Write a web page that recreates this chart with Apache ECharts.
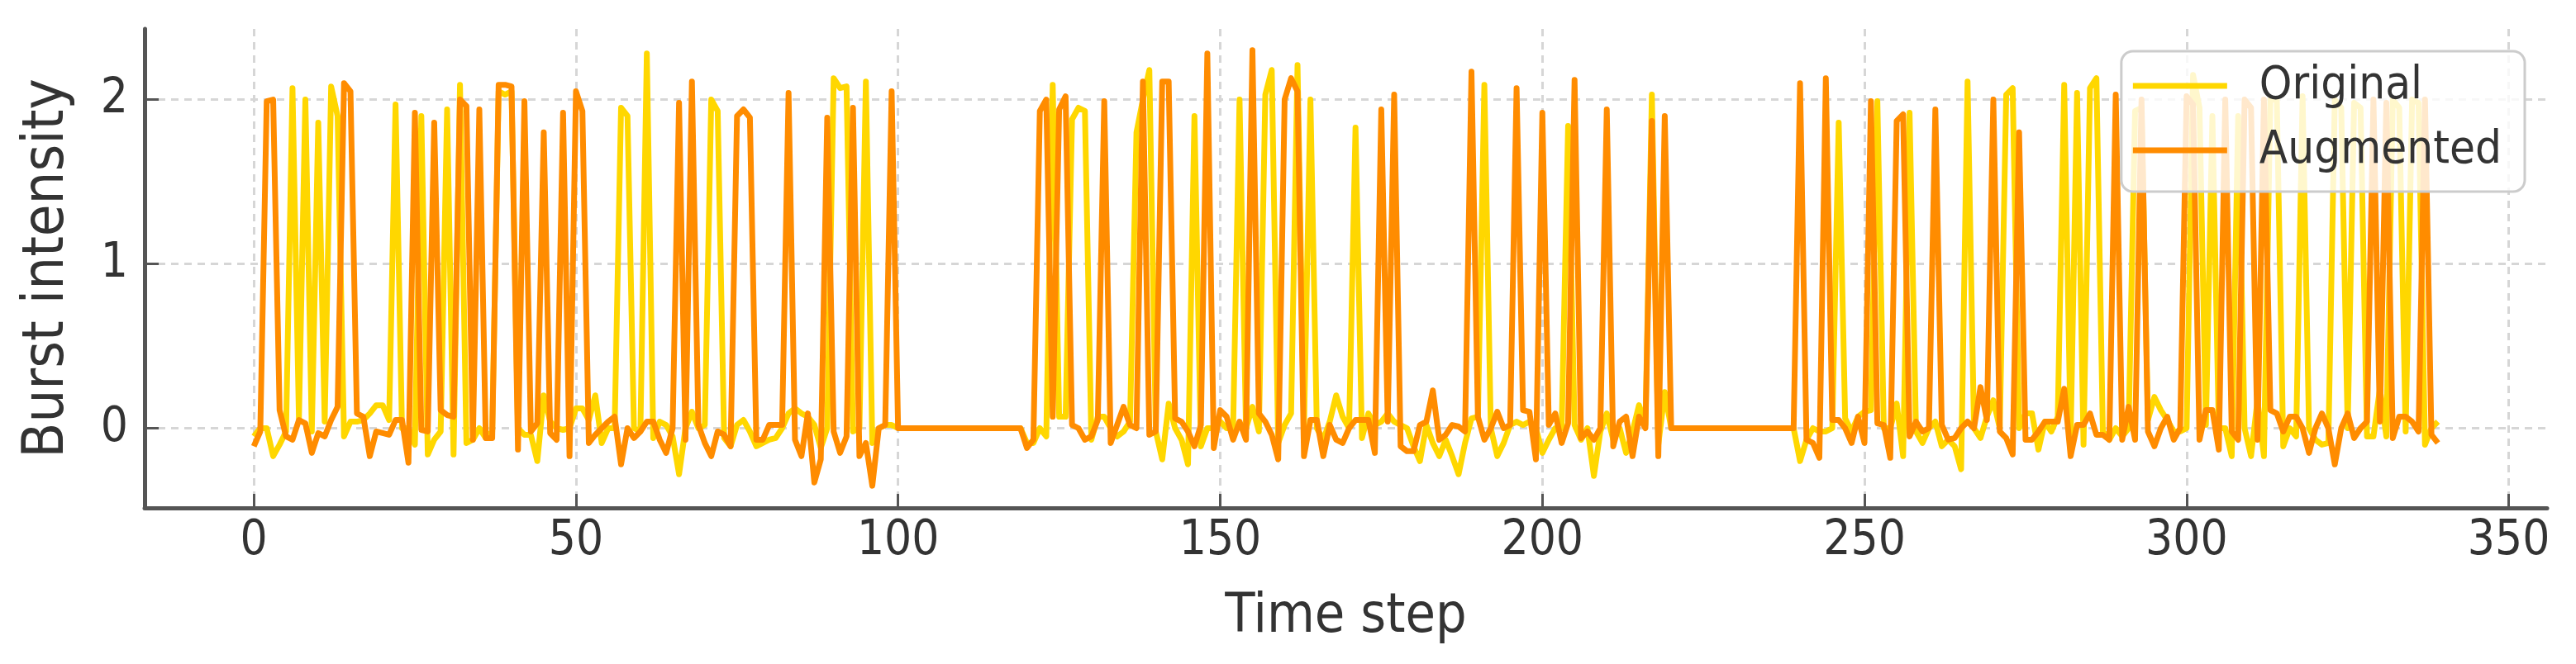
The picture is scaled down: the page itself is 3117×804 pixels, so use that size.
<!DOCTYPE html>
<html>
<head>
<meta charset="utf-8">
<script src="https://cdn.jsdelivr.net/npm/echarts@6/dist/echarts.min.js"></script>
<style>
html,body{margin:0;padding:0;background:#fff;}
#chart{width:3117px;height:804px;}
</style>
</head>
<body>
<div id="chart"></div>
<script>
const seriesNames = ['Original', 'Augmented'];
const xTickValues = [0, 50, 100, 150, 200, 250, 300, 350];
const yTickValues = [0, 1, 2];

const original = [
 -0.05, 0.00, 0.00, -0.17, -0.10, -0.02, 2.07, 0.06, 2.00, -0.02,
 1.86, 0.04, 2.08, 1.90, -0.05, 0.04, 0.04, 0.05, 0.09, 0.14,
 0.14, 0.05, 1.97, 0.00, 0.00, -0.10, 1.90, -0.16, -0.07, -0.02,
 1.94, -0.16, 2.09, -0.09, -0.07, 0.00, -0.06, -0.02, 2.05, 2.03,
 2.05, 0.00, -0.04, -0.04, -0.20, 0.20, 0.04, 0.00, -0.01, 0.00,
 0.12, 0.12, 0.05, 0.20, -0.09, 0.00, 0.00, 1.95, 1.90, 0.00,
 -0.02, 2.28, -0.06, 0.04, 0.02, -0.05, -0.28, 0.00, 0.10, 0.00,
 0.02, 2.00, 1.93, -0.06, -0.11, 0.02, 0.05, -0.02, -0.11, -0.09,
 -0.07, -0.06, 0.00, 0.09, 0.12, 0.09, 0.07, 0.02, -0.12, 0.00,
 2.13, 2.07, 2.08, -0.02, 0.00, 2.11, -0.09, 0.00, 0.02, 0.02,
 0, 0, 0, 0, 0, 0, 0, 0, 0, 0,
 0, 0, 0, 0, 0, 0, 0, 0, 0, 0,
 -0.09, -0.09, 0.00, -0.05, 2.09, 0.07, 0.07, 1.88, 1.95, 1.93,
 -0.07, 0.07, 0.07, 0.00, -0.05, -0.02, 0.04, 1.80, 2.00, 2.18,
 -0.02, -0.19, 0.15, 0.00, -0.07, -0.22, 1.90, -0.11, 0.00, 0.00,
 0.04, 0.00, 0.00, 2.00, 0.00, 0.13, -0.02, 2.03, 2.18, -0.09,
 0.02, 0.09, 2.21, 0.00, 2.00, 0.00, -0.07, 0.04, 0.20, 0.07,
 0.00, 1.83, -0.06, 0.09, 0.02, 0.04, 0.09, 0.04, 0.02, 0.00,
 -0.11, -0.20, 0.02, -0.09, -0.17, -0.07, -0.17, -0.28, -0.09, 0.06,
 0.07, 2.09, 0.00, -0.17, -0.09, 0.02, 0.04, 0.02, 0.04, 0.00,
 -0.15, -0.07, 0.00, 0.00, 1.84, 0.02, -0.07, 0.00, -0.29, -0.02,
 0.09, -0.07, 0.00, -0.15, -0.02, 0.14, 0.02, 2.03, -0.10, 0.22,
 0, 0, 0, 0, 0, 0, 0, 0, 0, 0,
 0, 0, 0, 0, 0, 0, 0, 0, 0, 0,
 -0.20, -0.07, 0.00, -0.02, -0.02, 0.00, 1.86, 0.06, -0.02, 0.07,
 0.10, 0.11, 1.99, 0.00, 0.00, 0.15, -0.17, 1.92, -0.02, -0.09,
 0.00, 0.04, -0.11, -0.07, -0.11, -0.25, 2.11, 0.00, -0.06, 0.07,
 0.17, 0.00, 2.03, 2.07, 0.00, 0.09, 0.09, -0.13, 0.04, -0.02,
 0.07, 2.09, -0.05, 2.04, -0.10, 2.07, 2.13, -0.02, -0.07, 0.00,
 -0.05, 0.00, 1.93, 1.95, 0.05, 0.19, 0.11, 0.05, -0.02, -0.02,
 0.00, 2.15, 1.95, 0.02, 1.90, 0.00, 0.00, -0.17, 1.90, 0.00,
 -0.17, 0.17, -0.17, 2.00, 2.00, -0.11, 0.00, -0.05, 2.02, 0.00,
 -0.07, -0.10, -0.09, 2.00, 1.95, 0.00, 1.98, 1.95, -0.05, -0.05,
 0.24, -0.05, 2.00, 1.95, -0.02, 2.00, 1.98, -0.10, 0.00, 0.04
];

const augmented = [
 -0.11, -0.02, 1.99, 2.00, 0.11, -0.05, -0.07, 0.05, 0.03, -0.15,
 -0.03, -0.05, 0.05, 0.13, 2.10, 2.05, 0.09, 0.07, -0.17, -0.02,
 -0.03, -0.04, 0.05, 0.05, -0.21, 1.92, -0.01, -0.02, 1.86, 0.11,
 0.08, 0.07, 2.00, 1.96, -0.07, 1.94, -0.06, -0.06, 2.09, 2.09,
 2.08, -0.13, 1.99, -0.02, 0.03, 1.80, -0.03, -0.07, 1.92, -0.17,
 2.05, 1.93, -0.09, -0.04, 0.00, 0.04, 0.07, -0.22, 0.00, -0.06,
 -0.02, 0.04, 0.04, -0.07, -0.15, 0.00, 1.98, -0.07, 2.11, 0.02,
 -0.09, -0.17, -0.02, -0.04, -0.11, 1.90, 1.94, 1.89, -0.07, -0.07,
 0.02, 0.02, 0.02, 2.04, -0.07, -0.17, 0.09, -0.33, -0.19, 1.89,
 -0.02, -0.15, -0.05, 1.95, -0.17, -0.09, -0.35, 0.00, 0.02, 2.05,
 0, 0, 0, 0, 0, 0, 0, 0, 0, 0,
 0, 0, 0, 0, 0, 0, 0, 0, 0, 0,
 -0.12, -0.07, 1.93, 2.00, 0.07, 1.94, 2.02, 0.02, 0.00, -0.07,
 -0.05, 0.05, 1.99, -0.09, 0.02, 0.13, 0.02, 0.00, 2.11, -0.04,
 -0.02, 2.11, 2.11, 0.06, 0.04, -0.02, -0.11, 0.02, 2.28, -0.12,
 0.11, 0.07, -0.07, 0.04, -0.07, 2.30, 0.09, 0.04, -0.04, -0.19,
 2.00, 2.13, 2.05, -0.17, 0.05, 0.05, -0.17, 0.02, -0.07, -0.09,
 0.00, 0.05, 0.05, 0.05, -0.15, 1.94, 0.04, 2.03, -0.11, -0.14,
 -0.14, 0.02, 0.04, 0.23, -0.07, -0.04, 0.02, 0.01, -0.02, 2.17,
 0.07, -0.07, 0.00, 0.10, 0.00, 0.02, 2.07, 0.11, 0.10, -0.19,
 1.92, 0.02, 0.09, -0.09, 0.03, 2.12, -0.06, -0.02, -0.07, 0.00,
 1.94, -0.11, 0.04, 0.07, -0.17, 0.07, 0.00, 1.87, -0.17, 1.90,
 0, 0, 0, 0, 0, 0, 0, 0, 0, 0,
 0, 0, 0, 0, 0, 0, 0, 0, 0, 0,
 2.10, -0.07, -0.09, -0.18, 2.13, 0.05, 0.05, 0.00, -0.09, 0.07,
 -0.09, 1.99, 0.03, 0.02, -0.18, 1.87, 1.91, -0.05, 0.04, -0.02,
 0.00, 1.94, 0.02, -0.07, -0.06, 0.00, 0.04, 0.00, 0.25, 0.05,
 2.00, -0.02, -0.06, -0.16, 1.80, -0.07, -0.07, -0.02, 0.04, 0.04,
 0.04, 0.24, -0.17, 0.02, 0.02, 0.09, -0.04, -0.04, -0.07, 2.03,
 -0.07, 0.13, -0.07, 2.00, -0.02, -0.11, 0.00, 0.07, -0.07, 0.00,
 2.02, 1.97, -0.07, 0.11, 0.11, -0.13, 2.00, -0.02, -0.07, 2.00,
 1.95, -0.07, 2.00, 0.11, 0.09, -0.02, 0.07, 0.07, 0.00, -0.15,
 0.00, 0.09, 0.00, -0.22, 0.00, 0.09, -0.06, 0.00, 0.04, 2.00,
 0.04, 1.98, -0.06, 0.07, 0.07, 0.04, -0.02, 2.00, -0.04, -0.09
];

const toPairs = arr => arr.map((v, i) => [i, v]);
const FONT = '"DejaVu Sans Condensed", "DejaVu Sans"';
const TEXT = '#333333';
const AXIS = '#555555';
const GRID = '#d6d6d6';

const chart = echarts.init(document.getElementById('chart'), null, {renderer: 'canvas'});
chart.setOption({
  animation: false,
  backgroundColor: '#ffffff',
  grid: {left: 175, right: 35, top: 35, bottom: 189, containLabel: false},
  legend: {
    orient: 'vertical',
    right: 62,
    top: 62,
    data: seriesNames,
    icon: 'rect',
    itemWidth: 114,
    itemHeight: 7,
    itemGap: 22,
    padding: [14, 28, 22, 14],
    backgroundColor: 'rgba(255,255,255,0.8)',
    borderColor: '#cccccc',
    borderWidth: 3,
    borderRadius: 14,
    textStyle: {fontFamily: FONT, fontSize: 56, color: TEXT, padding: [0, 0, 0, 34]}
  },
  xAxis: {
    type: 'value',
    min: -16.95,
    max: 355.95,
    name: 'Time step',
    nameLocation: 'middle',
    nameGap: 100,
    nameTextStyle: {fontFamily: FONT, fontSize: 66, color: TEXT},
    axisLine: {show: true, onZero: false, lineStyle: {color: AXIS, width: 5}},
    axisTick: {show: true, inside: true, length: 17, customValues: xTickValues, lineStyle: {color: AXIS, width: 3}},
    axisLabel: {customValues: xTickValues, fontFamily: FONT, fontSize: 58, color: TEXT, margin: 12},
    splitLine: {show: true, lineStyle: {color: GRID, width: 3, type: [9, 7]}}
  },
  yAxis: {
    type: 'value',
    min: -0.485,
    max: 2.43,
    name: 'Burst intensity',
    nameLocation: 'middle',
    nameGap: 82,
    nameTextStyle: {fontFamily: FONT, fontSize: 70, color: TEXT},
    axisLine: {show: true, onZero: false, lineStyle: {color: AXIS, width: 5}},
    axisTick: {show: true, inside: true, length: 17, customValues: yTickValues, lineStyle: {color: AXIS, width: 3}},
    axisLabel: {customValues: yTickValues, fontFamily: FONT, fontSize: 58, color: TEXT, margin: 20},
    splitLine: {show: true, lineStyle: {color: GRID, width: 3, type: [9, 7]}}
  },
  series: [
    {
      name: seriesNames[0], type: 'line', data: toPairs(original),
      showSymbol: false, symbol: 'none',
      itemStyle: {color: '#FFD700'},
      lineStyle: {color: '#FFD700', width: 7, join: 'round'},
      z: 2
    },
    {
      name: seriesNames[1], type: 'line', data: toPairs(augmented),
      showSymbol: false, symbol: 'none',
      itemStyle: {color: '#FF8C00'},
      lineStyle: {color: '#FF8C00', width: 7, join: 'round'},
      z: 3
    }
  ]
});
</script>
</body>
</html>
